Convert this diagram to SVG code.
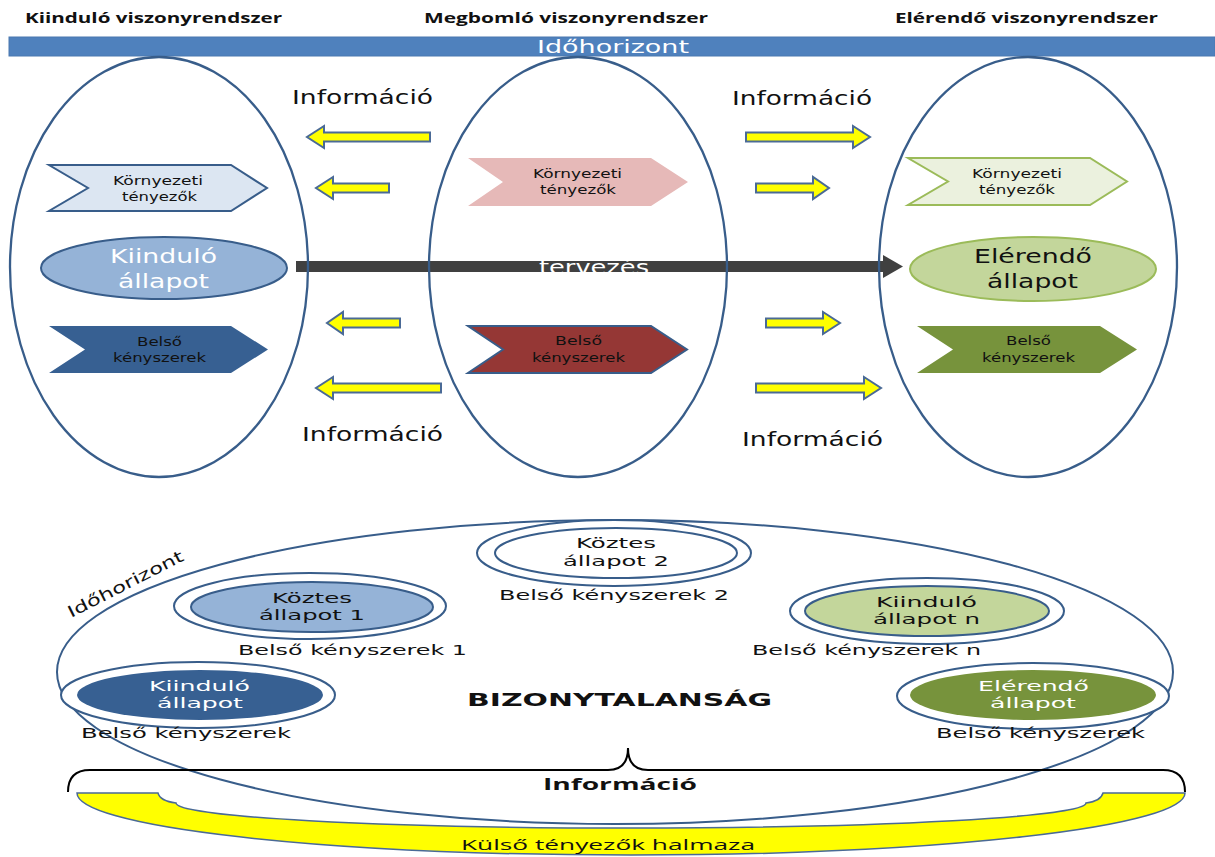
<svg xmlns="http://www.w3.org/2000/svg" width="1215" height="857" viewBox="0 0 1215 857">
<style>
.t{font-family:"DejaVu Sans","Liberation Sans",sans-serif;fill:#111}
.h{font-family:"Open Sans","Liberation Sans",sans-serif;fill:#111;font-weight:bold}
.b{font-weight:bold}
.w{fill:#fff}
.big{fill:none;stroke:#385D8A;stroke-width:2.3}
.ring{fill:#fff;stroke:#385D8A;stroke-width:2}
.ya{fill:#FFFF00;stroke:#4A6A96;stroke-width:2;stroke-linejoin:miter}
</style>
<rect width="1215" height="857" fill="#fff"/>

<g id="titles">
<text class="h" x="25" y="23" font-size="15" textLength="257" lengthAdjust="spacingAndGlyphs">Kiinduló viszonyrendszer</text>
<text class="h" x="424" y="23" font-size="15" textLength="284" lengthAdjust="spacingAndGlyphs">Megbomló viszonyrendszer</text>
<text class="h" x="895" y="23" font-size="15" textLength="263" lengthAdjust="spacingAndGlyphs">Elérendő viszonyrendszer</text>
</g>

<g id="timebar">
<rect x="9" y="37" width="1206" height="19" fill="#4F81BD" stroke="#4A78B0" stroke-width="1"/>
<text class="t w" x="537" y="53" font-size="17" textLength="152" lengthAdjust="spacingAndGlyphs">Időhorizont</text>
</g>

<g id="tervezes">
<rect x="296" y="261" width="589" height="11" fill="#404040"/>
<polygon points="883,255 903,266.5 883,278" fill="#404040"/>
<text class="t w" x="539" y="274" font-size="20" textLength="110" lengthAdjust="spacingAndGlyphs">tervezés</text>
</g>

<g id="system-left">
<ellipse class="big" cx="159" cy="267" rx="149" ry="210"/>
<polygon points="49,165 231,165 267,188 231,211 49,211 88,188" fill="#DCE6F2" stroke="#385D8A" stroke-width="2"/>
<text class="t" x="113" y="185" font-size="12.5" textLength="90" lengthAdjust="spacingAndGlyphs">Környezeti</text>
<text class="t" x="122" y="201" font-size="12.5" textLength="75" lengthAdjust="spacingAndGlyphs">tényezők</text>
<ellipse cx="164" cy="268" rx="123" ry="31" fill="#95B3D7" stroke="#385D8A" stroke-width="2"/>
<text class="t w" x="110" y="263" font-size="19" textLength="107" lengthAdjust="spacingAndGlyphs">Kiinduló</text>
<text class="t w" x="118" y="288" font-size="19" textLength="91" lengthAdjust="spacingAndGlyphs">állapot</text>
<polygon points="49,326 231,326 268,349.5 231,373 49,373 85,349.5" fill="#376092"/>
<text class="t" x="137" y="346" font-size="12.5" textLength="45" lengthAdjust="spacingAndGlyphs">Belső</text>
<text class="t" x="113" y="362" font-size="12.5" textLength="93" lengthAdjust="spacingAndGlyphs">kényszerek</text>
</g>

<g id="system-middle">
<ellipse class="big" cx="578" cy="267" rx="149" ry="210"/>
<polygon points="468,158 651,158 688,182 651,206 468,206 503,182" fill="#E6B9B8"/>
<text class="t" x="533" y="178" font-size="12.5" textLength="89" lengthAdjust="spacingAndGlyphs">Környezeti</text>
<text class="t" x="540" y="194" font-size="12.5" textLength="76" lengthAdjust="spacingAndGlyphs">tényezők</text>
<polygon points="468,326 651,326 687,349.5 651,373 468,373 503,349.5" fill="#953735" stroke="#385D8A" stroke-width="2"/>
<text class="t" x="555" y="345" font-size="12.5" textLength="47" lengthAdjust="spacingAndGlyphs">Belső</text>
<text class="t" x="532" y="362" font-size="12.5" textLength="93" lengthAdjust="spacingAndGlyphs">kényszerek</text>
</g>

<g id="system-right">
<ellipse class="big" cx="1028" cy="267" rx="149" ry="210"/>
<polygon points="908,158 1090,158 1127,181.5 1090,205 908,205 948,181.5" fill="#EBF1DE" stroke="#9BBB59" stroke-width="2"/>
<text class="t" x="972" y="178" font-size="12.5" textLength="90" lengthAdjust="spacingAndGlyphs">Környezeti</text>
<text class="t" x="979" y="194" font-size="12.5" textLength="76" lengthAdjust="spacingAndGlyphs">tényezők</text>
<ellipse cx="1033" cy="269" rx="123" ry="32" fill="#C3D69B" stroke="#9BBB59" stroke-width="2"/>
<text class="t" x="974" y="263" font-size="19" textLength="118" lengthAdjust="spacingAndGlyphs">Elérendő</text>
<text class="t" x="987" y="288" font-size="19" textLength="91" lengthAdjust="spacingAndGlyphs">állapot</text>
<polygon points="917,326 1100,326 1137,349.5 1100,373 917,373 953,349.5" fill="#77933C"/>
<text class="t" x="1006" y="345" font-size="12.5" textLength="45" lengthAdjust="spacingAndGlyphs">Belső</text>
<text class="t" x="982" y="362" font-size="12.5" textLength="93" lengthAdjust="spacingAndGlyphs">kényszerek</text>
</g>

<g id="connectors">
<path class="ya" d="M430,132.5 L324,132.5 L324,126 L307,137 L324,148 L324,141.5 L430,141.5 Z"/>
<path class="ya" d="M389,183.5 L333,183.5 L333,177 L316,188 L333,199 L333,192.5 L389,192.5 Z"/>
<path class="ya" d="M400,318.5 L343,318.5 L343,312 L327,323 L343,334 L343,327.5 L400,327.5 Z"/>
<path class="ya" d="M441,383.5 L333,383.5 L333,377 L316,388 L333,399 L333,392.5 L441,392.5 Z"/>
<path class="ya" d="M746,132.5 L853,132.5 L853,126 L870,137 L853,148 L853,141.5 L746,141.5 Z"/>
<path class="ya" d="M756,183.5 L813,183.5 L813,177 L829,188 L813,199 L813,192.5 L756,192.5 Z"/>
<path class="ya" d="M766,318.5 L823,318.5 L823,312 L840,323 L823,334 L823,327.5 L766,327.5 Z"/>
<path class="ya" d="M756,383.5 L864,383.5 L864,377 L881,388 L864,399 L864,392.5 L756,392.5 Z"/>
</g>

<g id="info-labels">
<text class="t" x="292" y="104" font-size="19" textLength="141" lengthAdjust="spacingAndGlyphs">Információ</text>
<text class="t" x="732" y="105" font-size="19" textLength="140" lengthAdjust="spacingAndGlyphs">Információ</text>
<text class="t" x="302" y="441" font-size="19" textLength="141" lengthAdjust="spacingAndGlyphs">Információ</text>
<text class="t" x="742" y="446" font-size="19" textLength="141" lengthAdjust="spacingAndGlyphs">Információ</text>
</g>

<g id="external-factors">
<path d="M77,793 L158,793 Q160,801 176,803 A455,25 0 0 0 1086,803 Q1101,801 1103,793 L1185,793 A554,62 0 0 1 77,793 Z" fill="#FFFF00" stroke="#4A6A96" stroke-width="1.5"/>
<text class="h" x="461" y="850" font-size="15" style="font-weight:normal" textLength="294" lengthAdjust="spacingAndGlyphs">Külső tényezők halmaza</text>
</g>

<g id="time-horizon">
<ellipse cx="615" cy="672" rx="558" ry="152" fill="none" stroke="#385D8A" stroke-width="2"/>
<text class="t" transform="translate(128,589) rotate(-27)" text-anchor="middle" font-size="16" textLength="128" lengthAdjust="spacingAndGlyphs">Időhorizont</text>
<text class="t b" x="467" y="706" font-size="18" textLength="305" lengthAdjust="spacingAndGlyphs">BIZONYTALANSÁG</text>
</g>

<g id="state-start">
<ellipse class="ring" cx="198" cy="695" rx="137" ry="33"/>
<ellipse cx="200" cy="695" rx="123" ry="25" fill="#376092"/>
<text class="t w" x="149" y="691" font-size="14" textLength="101" lengthAdjust="spacingAndGlyphs">Kiinduló</text>
<text class="t w" x="157" y="708" font-size="14" textLength="86" lengthAdjust="spacingAndGlyphs">állapot</text>
<text class="t" x="81" y="738" font-size="14" textLength="210" lengthAdjust="spacingAndGlyphs">Belső kényszerek</text>
</g>

<g id="state-1">
<ellipse class="ring" cx="310" cy="606" rx="136" ry="33"/>
<ellipse cx="312" cy="607" rx="121" ry="25" fill="#95B3D7" stroke="#385D8A" stroke-width="2"/>
<text class="t" x="272" y="603" font-size="14" textLength="80" lengthAdjust="spacingAndGlyphs">Köztes</text>
<text class="t" x="259" y="620" font-size="14" textLength="106" lengthAdjust="spacingAndGlyphs">állapot 1</text>
<text class="t" x="238" y="655" font-size="14" textLength="229" lengthAdjust="spacingAndGlyphs">Belső kényszerek 1</text>
</g>

<g id="state-2">
<ellipse class="ring" cx="614" cy="553" rx="137" ry="33"/>
<ellipse cx="616" cy="553" rx="121" ry="25" fill="#fff" stroke="#385D8A" stroke-width="2"/>
<text class="t" x="576" y="548" font-size="14" textLength="80" lengthAdjust="spacingAndGlyphs">Köztes</text>
<text class="t" x="563" y="566" font-size="14" textLength="106" lengthAdjust="spacingAndGlyphs">állapot 2</text>
<text class="t" x="499" y="600" font-size="14" textLength="230" lengthAdjust="spacingAndGlyphs">Belső kényszerek 2</text>
</g>

<g id="state-n">
<ellipse class="ring" cx="927" cy="611" rx="137" ry="33"/>
<ellipse cx="927" cy="611" rx="122" ry="25" fill="#C3D69B" stroke="#385D8A" stroke-width="2"/>
<text class="t" x="876" y="607" font-size="14" textLength="101" lengthAdjust="spacingAndGlyphs">Kiinduló</text>
<text class="t" x="873" y="624" font-size="14" textLength="107" lengthAdjust="spacingAndGlyphs">állapot n</text>
<text class="t" x="752" y="655" font-size="14" textLength="229" lengthAdjust="spacingAndGlyphs">Belső kényszerek n</text>
</g>

<g id="state-goal">
<ellipse class="ring" cx="1033" cy="696" rx="136" ry="33"/>
<ellipse cx="1033" cy="695" rx="123" ry="25" fill="#77933C"/>
<text class="t w" x="978" y="691" font-size="14" textLength="111" lengthAdjust="spacingAndGlyphs">Elérendő</text>
<text class="t w" x="990" y="708" font-size="14" textLength="86" lengthAdjust="spacingAndGlyphs">állapot</text>
<text class="t" x="936" y="738" font-size="14" textLength="209" lengthAdjust="spacingAndGlyphs">Belső kényszerek</text>
</g>

<g id="information-brace">
<path d="M68,792 Q68,770 90,770 L608,770 Q628,770 628,748 Q628,770 648,770 L1163,770 Q1185,770 1185,792" fill="none" stroke="#000" stroke-width="2"/>
<text class="h" x="543" y="790" font-size="16" textLength="154" lengthAdjust="spacingAndGlyphs">Információ</text>
</g>
</svg>
